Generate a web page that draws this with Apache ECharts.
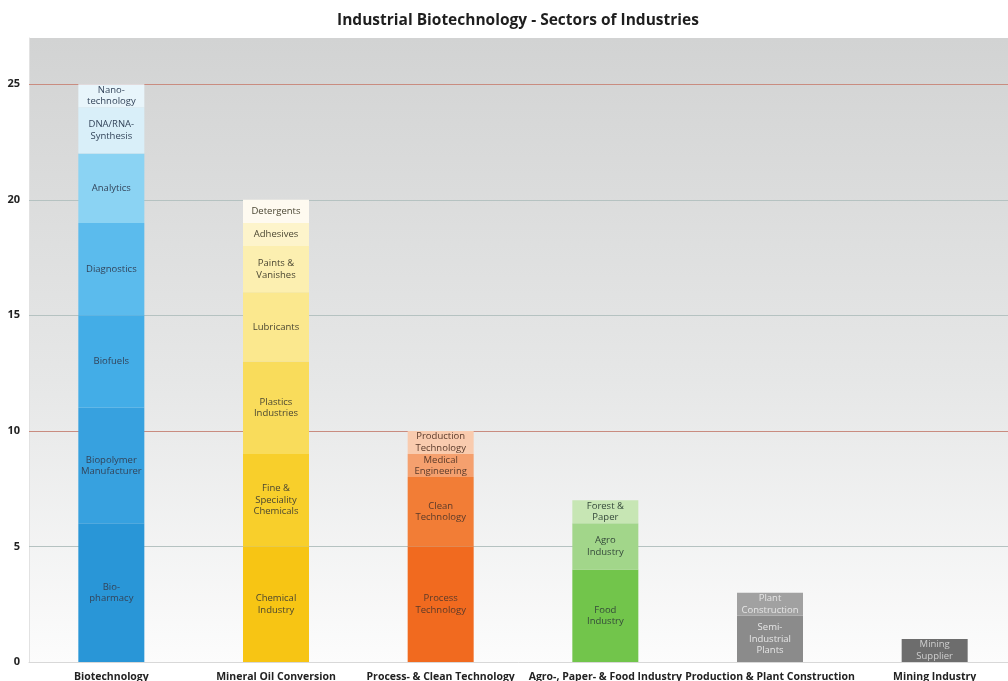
<!DOCTYPE html>
<html>
<head>
<meta charset="utf-8">
<title>Industrial Biotechnology - Sectors of Industries</title>
<script src="https://cdn.jsdelivr.net/npm/echarts@6/dist/echarts.min.js"></script>
<style>
  html, body { margin: 0; padding: 0; background: #fff; }
  #chart { width: 1008px; height: 681px; }
</style>
</head>
<body>
<div id="chart"></div>
<script>
// sectors on the x axis
const categories = ['Biotechnology', 'Mineral Oil Conversion', 'Process- & Clean Technology',
  'Agro-, Paper- & Food Industry', 'Production & Plant Construction', 'Mining Industry']
const yTicks = [0, 5, 10, 15, 20, 25]
const yTop = 27 // axis runs a bit past the last labelled tick
const redLines = [10, 25] // gridlines drawn in a reddish tone

// segments of each bar, from the bottom up
const bioLabels = ['Bio-\npharmacy', 'Biopolymer\nManufacturer', 'Biofuels', 'Diagnostics', 'Analytics', 'DNA/RNA-\nSynthesis', 'Nano-\ntechnology']
const bioValues = [6, 5, 4, 4, 3, 2, 1]
const oilLabels = ['Chemical\nIndustry', 'Fine &\nSpeciality\nChemicals', 'Plastics\nIndustries', 'Lubricants', 'Paints &\nVanishes', 'Adhesives', 'Detergents']
const oilValues = [5, 4, 4, 3, 2, 1, 1]
const processLabels = ['Process\nTechnology', 'Clean\nTechnology', 'Medical\nEngineering', 'Production\nTechnology']
const processValues = [5, 3, 1, 1]
const agroLabels = ['Food\nIndustry', 'Agro\nIndustry', 'Forest &\nPaper']
const agroValues = [4, 2, 1]
const plantLabels = ['Semi-\nIndustrial\nPlants', 'Plant\nConstruction']
const plantValues = [2, 1]
const miningLabels = ['Mining\nSupplier']
const miningValues = [1]

// colours (style only)
const palettes = [
  ['#2996d7', '#37a1df', '#43ade7', '#5bbbed', '#8bd3f3', '#d9eff9', '#e8f5fb'],
  ['#f7c514', '#f8cf2b', '#f9dc5b', '#fbe88e', '#fcefb0', '#fdf4cb', '#fefaf0'],
  ['#f16a1f', '#f27d36', '#f5a06e', '#f9cbae'],
  ['#72c54b', '#a2d68a', '#c7e6b4'],
  ['#8b8b8b', '#a1a1a1'],
  ['#6d6d6d']
]
const textColors = ['#33445a', '#4a4632', '#5a3a2a', '#34483a', '#e6e6e6', '#cfcfcf']

const groups = [
  [bioLabels, bioValues],
  [oilLabels, oilValues],
  [processLabels, processValues],
  [agroLabels, agroValues],
  [plantLabels, plantValues],
  [miningLabels, miningValues]
]

const series = []
groups.forEach(([labels, values], ci) => {
  values.forEach((v, si) => {
    const data = categories.map((c, i) => (i === ci ? v : '-'))
    series.push({
      name: labels[si],
      type: 'bar',
      stack: 'total',
      barWidth: 66,
      z: 3,
      data: data,
      itemStyle: { color: palettes[ci][si] },
      label: {
        show: true,
        position: 'inside',
        formatter: () => labels[si],
        color: textColors[ci],
        fontSize: 9.5,
        lineHeight: 11.5,
        fontFamily: 'Open Sans'
      },
      emphasis: { disabled: true }
    })
  })
})
// gridlines behind the bars: grey-teal, with 10 and 25 in a reddish tone
series.push({
  name: 'gridlines',
  type: 'line',
  data: [],
  z: 1,
  silent: true,
  markLine: {
    z: 1,
    silent: true,
    symbol: 'none',
    label: { show: false },
    emphasis: { disabled: true },
    data: yTicks.slice(1).map(y => ({
      yAxis: y,
      lineStyle: { color: redLines.includes(y) ? '#c98c80' : '#b5c2c1', type: 'solid', width: 1 }
    }))
  }
})

const chart = echarts.init(document.getElementById('chart'))
chart.setOption({
  animation: false,
  title: {
    text: 'Industrial Biotechnology - Sectors of Industries',
    left: 332,
    top: 8,
    textStyle: { fontSize: 15.5, fontWeight: 'bold', color: '#1e1e1e', fontFamily: 'Open Sans' }
  },
  grid: {
    left: 29,
    width: 988,
    top: 38,
    bottom: 19,
    outerBoundsMode: 'none',
    show: true,
    borderWidth: 0,
    backgroundColor: {
      type: 'linear', x: 0, y: 0, x2: 0, y2: 1,
      colorStops: [
        { offset: 0, color: '#d2d3d3' },
        { offset: 0.55, color: '#e6e7e7' },
        { offset: 1, color: '#fcfcfc' }
      ]
    }
  },
  xAxis: {
    type: 'category',
    data: categories,
    axisTick: { show: false },
    axisLine: { lineStyle: { color: '#d8d8d8' } },
    axisLabel: { margin: 10, fontSize: 10.5, fontWeight: 'bold', color: '#222', fontFamily: 'Open Sans', interval: 0 }
  },
  yAxis: {
    type: 'value',
    min: yTicks[0],
    max: yTop,
    interval: 5,
    axisLine: { show: true, lineStyle: { color: '#e2e2e2' } },
    axisTick: { show: false },
    axisLabel: { margin: 9, fontSize: 11, fontWeight: 'bold', color: '#222', fontFamily: 'Open Sans', showMaxLabel: false },
    splitLine: { show: false }
  },
  series: series
})
</script>
</body>
</html>
